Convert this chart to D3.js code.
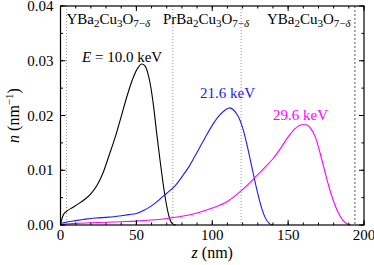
<!DOCTYPE html>
<html>
<head>
<meta charset="utf-8">
<script src="https://cdn.jsdelivr.net/npm/d3@7"></script>
<style>
  body { margin: 0; background: #fff; }
</style>
</head>
<body>
<div id="chart"></div>
<script>
// depth profiles n(z) for three beam energies
const zBlack = [0, 1, 2, 4, 8, 12, 16, 20, 24, 28, 32, 36, 40, 44, 48, 51, 53.5, 55.5, 57.5, 59.5, 61.5, 63.5, 65.5, 67.5, 69.5, 71.5, 73.5, 76];
const nBlack = [0, 0.0012, 0.0019, 0.0025, 0.0032, 0.0039, 0.0047, 0.0057, 0.0072, 0.0095, 0.0127, 0.0160, 0.0198, 0.0237, 0.0270, 0.0287, 0.0294, 0.0291, 0.0278, 0.0252, 0.0213, 0.0165, 0.0120, 0.0078, 0.0042, 0.0016, 0.0003, 0];

const zBlue = [0, 5, 10, 15, 20, 25, 30, 35, 40, 45, 50, 55, 60, 65, 70, 75, 80, 85, 90, 95, 100, 105, 109, 111.5, 114, 117, 120, 123, 126, 129, 132, 135, 137.5, 140];
const nBlue = [0.0003, 0.0006, 0.0008, 0.0010, 0.0012, 0.0013, 0.0014, 0.0015, 0.0017, 0.0019, 0.0021, 0.0027, 0.0035, 0.0046, 0.0058, 0.0070, 0.0088, 0.0108, 0.0133, 0.0158, 0.0182, 0.0201, 0.0211, 0.0214, 0.0210, 0.0199, 0.0178, 0.0145, 0.0107, 0.0069, 0.0036, 0.0013, 0.0003, 0];

const zMagenta = [0, 10, 20, 30, 40, 50, 60, 70, 80, 90, 100, 110, 118, 125, 130, 135, 140, 145, 150, 155, 159, 162, 165, 168, 171, 174, 177, 180, 183, 186, 189, 191];
const nMagenta = [0.0001, 0.0003, 0.0004, 0.0005, 0.0006, 0.0007, 0.0009, 0.0012, 0.0016, 0.0022, 0.0031, 0.0043, 0.0060, 0.0078, 0.0092, 0.0106, 0.0121, 0.0140, 0.0161, 0.0177, 0.0183, 0.0183, 0.0176, 0.0160, 0.0132, 0.0100, 0.0069, 0.0043, 0.0023, 0.0009, 0.0002, 0];

const energyLabels = ['10.0 keV', '21.6 keV', '29.6 keV'];
const seriesColors = ['#000000', '#1a1aff', '#ff00ff'];

// layer boundaries (nm) and layer names
const boundaries = [4, 74, 119, 194];
const layerNames = ['YBa', 'PrBa', 'YBa'];

const xTicks = [0, 50, 100, 150, 200];
const yTicks = [0, 0.01, 0.02, 0.03, 0.04];

const width = 374, height = 265;
const margin = { top: 6, right: 10, bottom: 40, left: 60.5 };
const plotW = width - margin.left - margin.right;
const plotH = height - margin.top - margin.bottom;

const svg = d3.select('#chart')
  .append('svg')
  .attr('width', width)
  .attr('height', height)
  .attr('font-family', "'Liberation Serif', 'Times New Roman', serif");

const g = svg.append('g')
  .attr('transform', 'translate(' + margin.left + ',' + margin.top + ')');

const x = d3.scaleLinear().domain([0, 200]).range([0, plotW]);
const y = d3.scaleLinear().domain([0, 0.04]).range([plotH, 0]);

// layer separators
g.selectAll('.sep')
  .data(boundaries)
  .join('line')
  .attr('x1', d => x(d)).attr('x2', d => x(d))
  .attr('y1', 0).attr('y2', plotH)
  .attr('stroke', (d, i) => i === boundaries.length - 1 ? '#555' : '#999')
  .attr('stroke-width', 1)
  .attr('stroke-dasharray', (d, i) => i === boundaries.length - 1 ? '2,2' : '1,2');

// curves
const line = d3.line()
  .x(d => x(d[0]))
  .y(d => y(d[1]))
  .curve(d3.curveMonotoneX);

const series = [
  d3.zip(zBlack, nBlack),
  d3.zip(zBlue, nBlue),
  d3.zip(zMagenta, nMagenta)
];

g.selectAll('.curve')
  .data(series)
  .join('path')
  .attr('fill', 'none')
  .attr('stroke', (d, i) => seriesColors[i])
  .attr('stroke-width', 1.1)
  .attr('d', line);

// ticks on all four sides, pointing inward
const xMinor = d3.range(0, 201, 10);
const yMinor = d3.range(0, 0.0401, 0.005);

function tickLines(vals, len, horizontal) {
  vals.forEach(v => {
    if (horizontal) {
      g.append('line').attr('x1', x(v)).attr('x2', x(v)).attr('y1', plotH).attr('y2', plotH - len).attr('stroke', '#000');
      g.append('line').attr('x1', x(v)).attr('x2', x(v)).attr('y1', 0).attr('y2', len).attr('stroke', '#000');
    } else {
      g.append('line').attr('x1', 0).attr('x2', len).attr('y1', y(v)).attr('y2', y(v)).attr('stroke', '#000');
      g.append('line').attr('x1', plotW).attr('x2', plotW - len).attr('y1', y(v)).attr('y2', y(v)).attr('stroke', '#000');
    }
  });
}
tickLines(xMinor, 2.5, true);
tickLines(xTicks, 5, true);
tickLines(yMinor, 2.5, false);
tickLines(yTicks, 5, false);

g.append('rect')
  .attr('width', plotW).attr('height', plotH)
  .attr('fill', 'none').attr('stroke', '#000').attr('stroke-width', 1.2);

// tick labels
g.selectAll('.xl')
  .data(xTicks)
  .join('text')
  .attr('x', d => x(d))
  .attr('y', plotH + 15)
  .attr('text-anchor', 'middle')
  .attr('font-size', 15)
  .text(d => d);

g.selectAll('.yl')
  .data(yTicks)
  .join('text')
  .attr('x', -7)
  .attr('y', d => y(d) + 5)
  .attr('text-anchor', 'end')
  .attr('font-size', 15)
  .text(d => d3.format('.2f')(d));

// axis titles
const xt = svg.append('text')
  .attr('x', margin.left + x(100))
  .attr('y', 258)
  .attr('text-anchor', 'middle')
  .attr('font-size', 16);
xt.append('tspan').attr('font-style', 'italic').text('z');
xt.append('tspan').text(' (nm)');

const yt = svg.append('text')
  .attr('transform', 'translate(19,' + (margin.top + y(0.02)) + ') rotate(-90)')
  .attr('text-anchor', 'middle')
  .attr('font-size', 16);
yt.append('tspan').attr('font-style', 'italic').text('n');
yt.append('tspan').text(' (nm');
yt.append('tspan').attr('font-size', 11).attr('dy', -6).text('−1');
yt.append('tspan').attr('dy', 6).text(')');

// layer labels: XBa2Cu3O7-δ
function compound(sel, prefix) {
  sel.append('tspan').text(prefix);
  sel.append('tspan').attr('font-size', 11).attr('dy', 3).text('2');
  sel.append('tspan').attr('dy', -3).text('Cu');
  sel.append('tspan').attr('font-size', 11).attr('dy', 3).text('3');
  sel.append('tspan').attr('dy', -3).text('O');
  sel.append('tspan').attr('font-size', 11).attr('dy', 3).text('7−');
  sel.append('tspan').attr('font-size', 11).attr('font-style', 'italic').text('δ');
}
const layerX = [66.5, 163, 267];
layerNames.forEach((name, i) => {
  const t = svg.append('text')
    .attr('x', layerX[i])
    .attr('y', 24)
    .attr('font-size', 15);
  compound(t, name);
});

// energy labels
const e0 = svg.append('text').attr('x', 82).attr('y', 62).attr('font-size', 15).attr('fill', seriesColors[0]);
e0.append('tspan').attr('font-style', 'italic').text('E');
e0.append('tspan').text(' = ' + energyLabels[0]);

svg.append('text').attr('x', 200).attr('y', 98).attr('font-size', 15)
  .attr('fill', seriesColors[1]).text(energyLabels[1]);
svg.append('text').attr('x', 273).attr('y', 120).attr('font-size', 15)
  .attr('fill', seriesColors[2]).text(energyLabels[2]);
</script>
</body>
</html>
